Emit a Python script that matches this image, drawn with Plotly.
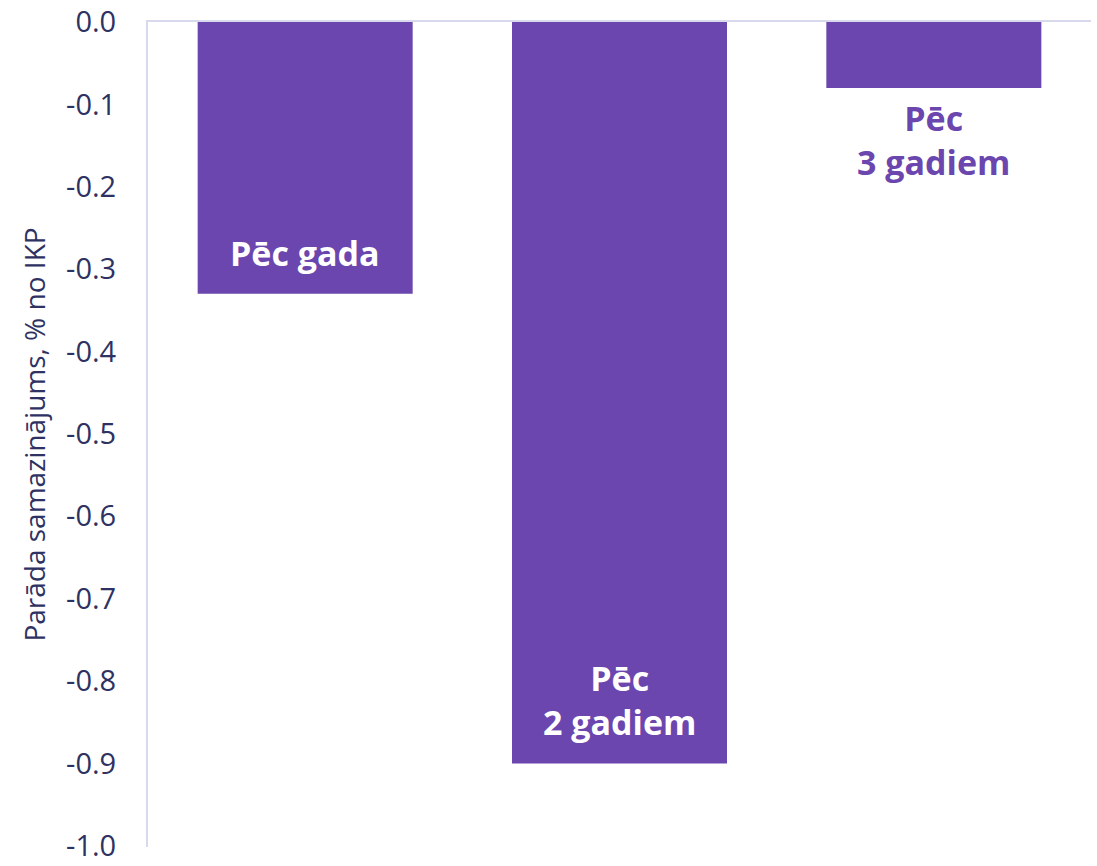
import plotly.graph_objects as go

categories = ["Pēc gada", "Pēc 2 gadiem", "Pēc 3 gadiem"]
values = [-0.33, -0.90, -0.08]
bar_labels = ["Pēc gada", "Pēc<br>2 gadiem", "Pēc<br>3 gadiem"]
label_inside = [True, True, False]
tick_vals = [0.0, -0.1, -0.2, -0.3, -0.4, -0.5, -0.6, -0.7, -0.8, -0.9, -1.0]
tick_text = ["0.0", "-0.1", "-0.2", "-0.3", "-0.4", "-0.5", "-0.6", "-0.7", "-0.8", "-0.9", "-1.0"]
y_title = "Parāda samazinājums, % no IKP"

purple = "#6a46ae"
axis_col = "#d9d9ee"
text_col = "#2e3262"

fig = go.Figure(go.Bar(
    x=categories, y=values, marker=dict(color=purple, line=dict(width=0)),
    width=0.684, hoverinfo="skip",
))

for cat, val, lab, inside in zip(categories, values, bar_labels, label_inside):
    fig.add_annotation(
        x=cat, y=val, text=f"<b>{lab}</b>", showarrow=False,
        yanchor="bottom" if inside else "top",
        yshift=16 if inside else -5,
        font=dict(family="Open Sans", size=34, color="white" if inside else purple),
    )

fig.update_layout(
    width=1097, height=866,
    margin=dict(l=148, r=6, t=22, b=19, autoexpand=False),
    paper_bgcolor="white", plot_bgcolor="white",
    showlegend=False,
    font=dict(family="Open Sans", color=text_col),
    xaxis=dict(side="top", showticklabels=False, showline=True, linecolor=axis_col,
               linewidth=2, showgrid=False, ticks="", zeroline=False,
               range=[-0.5, 2.5], automargin=False),
    yaxis=dict(range=[-1.0015, 0.0], tickvals=tick_vals, ticktext=tick_text,
               showline=True, linecolor=axis_col, linewidth=2, showgrid=False,
               zeroline=False, ticks="", ticklabelstandoff=24, automargin=False,
               ticklabeloverflow="allow",
               tickfont=dict(family="Open Sans", size=29, color=text_col),
               title=dict(text=y_title, standoff=12,
                          font=dict(family="Open Sans", size=28, color=text_col))),
)

fig.write_html("out.html", config={"displayModeBar": False},
               post_script="document.body.style.margin='0';document.body.style.overflow='hidden';")
